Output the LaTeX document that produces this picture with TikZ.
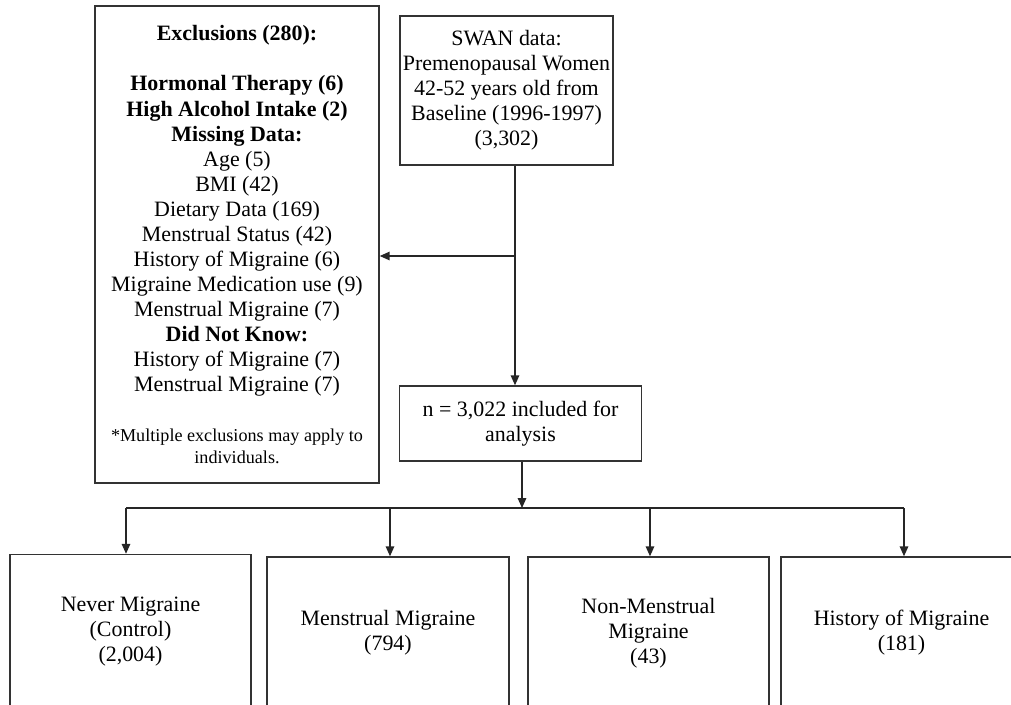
\documentclass[tikz,border=0pt]{standalone}
\usepackage{fontspec}
\setmainfont{Liberation Serif}
\usetikzlibrary{arrows.meta}

\newcommand\footsz{\fontsize{12.9}{15.2}\selectfont}

\begin{document}
\begin{tikzpicture}
  [x=0.025cm,y=-0.025cm,
   box/.style={draw=black!80,line width=1pt,align=center,inner sep=0pt,
     font=\fontsize{15.6}{17.8}\selectfont},
   wire/.style={draw=black!85,line width=1pt},
   arr/.style={wire,-{Triangle[length=7pt,width=6pt]}}]
  \useasboundingbox (0,0) rectangle (1011,704);
  \clip (0,0) rectangle (1011,704);

  \node[box,minimum width=7.1cm,minimum height=11.925cm] (excl) at (237,244.5)
    {\textbf{Exclusions (280):}\\[17.8pt]
     \textbf{Hormonal Therapy (6)}\\
     \textbf{High Alcohol Intake (2)}\\
     \textbf{Missing Data:}\\
     Age (5)\\
     BMI (42)\\
     Dietary Data (169)\\
     Menstrual Status (42)\\
     History of Migraine (6)\\
     Migraine Medication use (9)\\
     Menstrual Migraine (7)\\
     \textbf{Did Not Know:}\\
     History of Migraine (7)\\
     Menstrual Migraine (7)\\[17.8pt]
     {\footsz *Multiple exclusions may apply to}\\[-2.4pt]
     {\footsz individuals.}};
  \node[box,minimum width=5.325cm,minimum height=3.725cm] (swan) at (506.5,90.5)
    {SWAN data:\\ Premenopausal Women\\ 42-52 years old from\\ Baseline (1996-1997)\\ (3,302)};
  \node[box,minimum width=6.05cm,minimum height=1.875cm] (incl) at (520.5,423.5)
    {n = 3,022 included for\\ analysis};

  \node[box,minimum width=6.025cm,minimum height=3.85cm] (never) at (130.5,631.5)
    {Never Migraine\\ (Control)\\ (2,004)};
  \node[box,minimum width=6.05cm,minimum height=3.8cm] (mens) at (388,633)
    {Menstrual Migraine\\ (794)};
  \node[box,minimum width=6.025cm,minimum height=3.8cm] (nonmens) at (648.5,633)
    {Non-Menstrual\\ Migraine\\ (43)};
  \node[box,minimum width=6.025cm,minimum height=3.8cm] (hist) at (901.5,633)
    {History of Migraine\\ (181)};

  \coordinate (split) at (515,256);
  \coordinate (join) at (522,508);
  \coordinate (b1) at (126,508);
  \coordinate (b2) at (390,508);
  \coordinate (b3) at (650,508);
  \coordinate (b4) at (904,508);

  \draw[arr] (swan.south -| split) -- (split |- incl.north);
  \draw[arr] (split) -- (excl.east |- split);
  \draw[arr] (incl.south -| join) -- (join);
  \draw[wire] (b1) -- (b4);
  \draw[arr] (b1) -- (b1 |- never.north);
  \draw[arr] (b2) -- (b2 |- mens.north);
  \draw[arr] (b3) -- (b3 |- nonmens.north);
  \draw[arr] (b4) -- (b4 |- hist.north);
\end{tikzpicture}
\end{document}
